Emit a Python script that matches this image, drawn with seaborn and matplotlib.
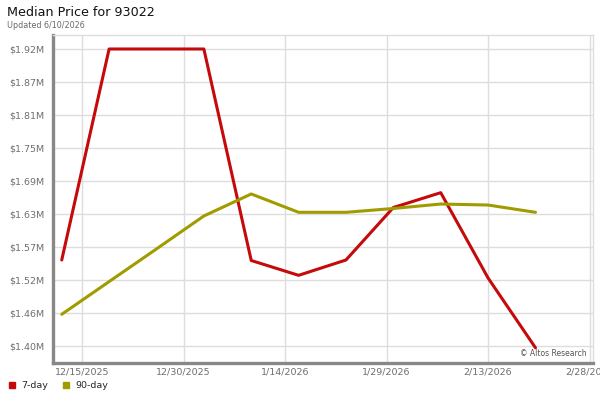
import matplotlib
matplotlib.use("Agg")
import matplotlib.pyplot as plt
import matplotlib.dates as mdates
from matplotlib.ticker import FuncFormatter, FixedLocator
from matplotlib.lines import Line2D
import seaborn as sns
import pandas as pd
import numpy as np

# ---- data ----
dates = ["2025-12-12", "2025-12-19", "2025-12-26", "2026-01-02", "2026-01-09",
         "2026-01-16", "2026-01-23", "2026-01-30", "2026-02-06", "2026-02-13",
         "2026-02-20"]
seven_day = [1.5507, 1.9247, 1.9247, 1.9247, 1.5498, 1.5235, 1.5507, 1.6437,
             1.6700, 1.5187, 1.3951]
ninety_day = [1.4544, 1.5124, 1.5703, 1.6287, 1.6677, 1.6352, 1.6352, 1.6420,
              1.6499, 1.6481, 1.6352]
series_names = ["7-day", "90-day"]
y_ticks = [1.3982, 1.4567, 1.5152, 1.5737, 1.6322, 1.6907, 1.7492, 1.8077,
           1.8662, 1.9247]
x_ticks = ["2025-12-15", "2025-12-30", "2026-01-14", "2026-01-29", "2026-02-13",
           "2026-02-28"]
title = "Median Price for 93022"
subtitle = "Updated 6/10/2026"
credit = "\u00a9 Altos Research"

colors = {"7-day": "#c40a0a", "90-day": "#a09c00"}

df = pd.concat([
    pd.DataFrame({"date": pd.to_datetime(dates), "price": seven_day, "series": "7-day"}),
    pd.DataFrame({"date": pd.to_datetime(dates), "price": ninety_day, "series": "90-day"}),
], ignore_index=True)

sns.set_theme(style="white")
plt.rcParams["font.family"] = ["DejaVu Sans"]

fig = plt.figure(figsize=(6, 4), dpi=100)
ax = fig.add_axes([53 / 600, 1 - 363 / 400, (593 - 53) / 600, (363 - 35) / 400])

sns.lineplot(data=df, x="date", y="price", hue="series", palette=colors,
             hue_order=series_names, linewidth=2.2, ax=ax, legend=False,
             sort=False)

# axes limits
ax.set_xlim(pd.Timestamp("2025-12-10 17:00"), pd.Timestamp("2026-02-28 12:00"))
ax.set_ylim(1.3681, 1.9495)

ax.yaxis.set_major_locator(FixedLocator(y_ticks))
ax.yaxis.set_major_formatter(FuncFormatter(lambda v, p: f"${v:.2f}M"))
ax.xaxis.set_major_locator(FixedLocator([mdates.date2num(pd.Timestamp(d)) for d in x_ticks]))

def date_fmt(v, p):
    d = mdates.num2date(v)
    return f"{d.month}/{d.day}/{d.year}"

ax.xaxis.set_major_formatter(FuncFormatter(date_fmt))

ax.grid(True, color="#dddddd", linewidth=1.0)
ax.set_axisbelow(True)
ax.tick_params(axis="both", length=0, labelsize=6.8, colors="#6e6e6e")
ax.tick_params(axis="y", pad=6)
ax.tick_params(axis="x", pad=3.5)
ax.set_xlabel("")
ax.set_ylabel("")

for s in ["left", "bottom"]:
    ax.spines[s].set_color("#888888")
    ax.spines[s].set_linewidth(2.4)
for s in ["top", "right"]:
    ax.spines[s].set_color("#dddddd")
    ax.spines[s].set_linewidth(1.0)

# titles
fig.text(7 / 600, 1 - 13 / 400, title, fontsize=9.2, color="#111111", va="center", ha="left")
fig.text(7 / 600, 1 - 25 / 400, subtitle, fontsize=5.8, color="#6a6a6a", va="center",
         ha="left")

# credit
ax.text(0.988, (363 - 354) / 328, credit, transform=ax.transAxes, fontsize=5.5,
        color="#555555", ha="right", va="center")

# legend
handles = [Line2D([0], [0], marker="s", linestyle="none", markersize=4.5,
                  markerfacecolor=colors[n], markeredgecolor=colors[n]) for n in series_names]
fig.legend(handles, series_names, loc="center left", bbox_to_anchor=(4 / 600, 1 - 386 / 400),
           ncol=2, frameon=False, fontsize=6.8, handlelength=0.8, handletextpad=0.6,
           columnspacing=1.5, borderaxespad=0.2, borderpad=0.2)

fig.savefig("out.png", dpi=100)
